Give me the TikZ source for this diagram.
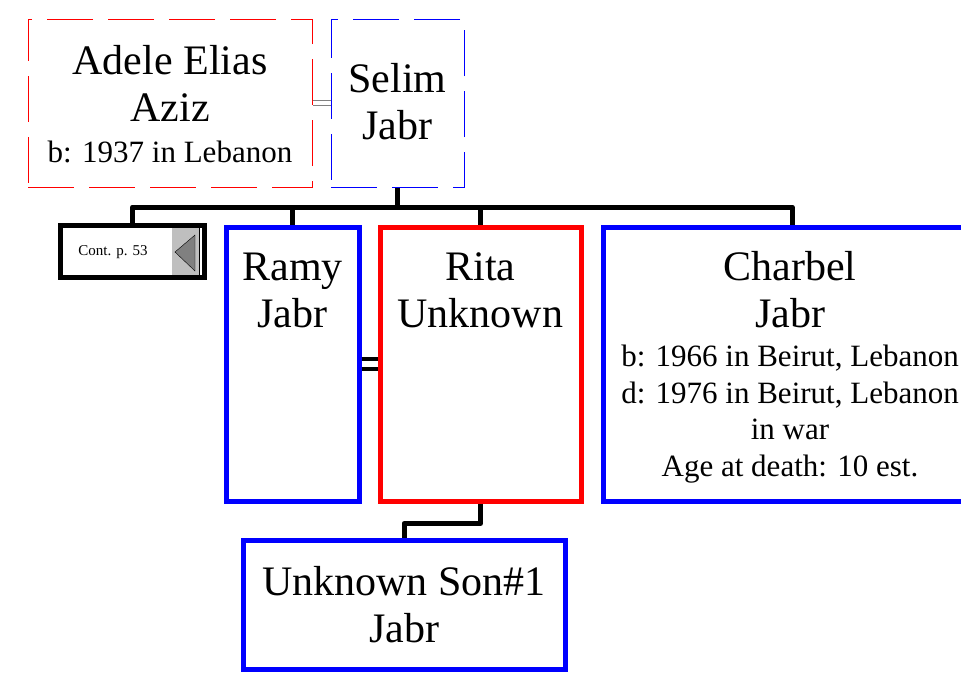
\documentclass[tikz,border=0pt]{standalone}
\usepackage{fontspec}
\setmainfont{Liberation Serif}
\usetikzlibrary{positioning}
\newcommand{\bigname}{\fontsize{42}{47}\selectfont}
\newcommand{\smallinfo}{\fontsize{31}{37}\selectfont}

\tikzset{
  person/.style={draw, line width=5pt, inner sep=0pt},
  spouse/.style={draw, line width=1pt, dash pattern=on 46pt off 15pt, inner sep=0pt},
  bio/.style={anchor=north, align=center, inner sep=0pt, font=\bigname},
  link/.style={line width=5pt, line join=round},
}

\begin{document}
\begin{tikzpicture}[x=1pt,y=-1pt]
\useasboundingbox (0,0) rectangle (961,673);

% Parents
\node [spouse, red, minimum width=284pt, minimum height=168pt] (adele) at (170,103) {};
\node [bio, below=27pt of adele.north] (adeletext) {Adele Elias\\Aziz\\[-6pt]\smallinfo b: 1937 in Lebanon};
\node [spouse, blue, minimum width=133pt, minimum height=168pt] (selim) at (397.5,103) {};
\node [bio, below=45pt of selim.north] (selimtext) {Selim\\Jabr};
\draw [gray, double, line width=1pt, double distance=3.2pt] (adele.east) -- (selim.west);

% Children
\node [person, minimum width=144pt, minimum height=52pt] (cont) at (132.5,251.5) {};
\node [font=\fontsize{15}{18}\selectfont, inner sep=0pt] (contlabel) at (113,252) {Cont. p. 53};
\node [fill=black!25, minimum width=27pt, minimum height=47pt, inner sep=0pt] (contbtn) at (185.5,251.5) {};
\draw [thin] (contbtn.north east) -- (contbtn.south east);
\draw [thin, fill=black!50] (175,252) -- (195,235) -- (195,271) -- cycle;

\node [person, blue, minimum width=133pt, minimum height=274pt] (ramy) at (292.5,364) {};
\node [bio, below=28pt of ramy.north] (ramytext) {Ramy\\Jabr};
\node [person, red, minimum width=201pt, minimum height=274pt] (rita) at (480.5,364) {};
\node [bio, below=28pt of rita.north] (ritatext) {Rita\\Unknown};
\draw [double, line width=4pt, double distance=6pt] (ramy.east) -- (rita.west);
\node [person, blue, minimum width=378pt, minimum height=274pt] (charbel) at (792,364) {};
\node [bio, below=27pt of charbel.north, xshift=-2pt] (charbeltext) {Charbel\\Jabr\\[-8pt]\smallinfo b: 1966 in Beirut, Lebanon\\[-10pt]\smallinfo d: 1976 in Beirut, Lebanon\\[-11pt]\smallinfo in war\\[-10pt]\smallinfo Age at death: 10 est.};

% Bus
\coordinate (bus) at (0,207);
\draw [link] (selim.south) -- (selim.south |- bus);
\draw [link] (cont.north) -- (cont.north |- bus) -| (charbel.north);
\draw [link] (ramy.north) -- (ramy.north |- bus);
\draw [link] (rita.north) -- (rita.north |- bus);

% Grandchild
\node [person, blue, minimum width=322pt, minimum height=129pt] (son) at (404,605) {};
\node [bio, below=28pt of son.north] (sontext) {Unknown Son\#1\\Jabr};
\draw [link] (rita.south) -- ++(0,20) -| (son.north);
\end{tikzpicture}
\end{document}
